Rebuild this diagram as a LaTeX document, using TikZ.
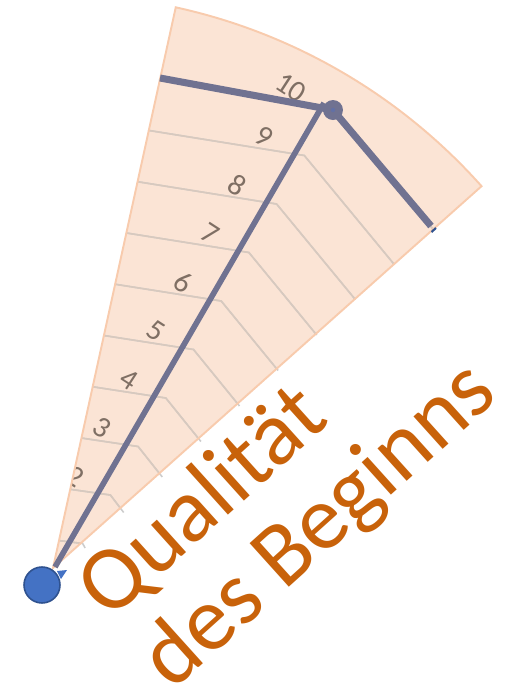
\documentclass[tikz,border=0pt]{standalone}
\usepackage{fontspec}
\setmainfont{Carlito}
\usetikzlibrary{calc}
\definecolor{wedgec}{RGB}{251,228,213}
\definecolor{rimc}{RGB}{248,203,173}
\definecolor{gridc}{RGB}{216,201,190}
\definecolor{tickc}{RGB}{204,204,204}
\definecolor{numc}{RGB}{127,111,100}
\definecolor{slatec}{RGB}{112,114,145}
\definecolor{coredotc}{RGB}{98,112,165}
\definecolor{dotc}{RGB}{68,114,196}
\definecolor{dotrimc}{RGB}{47,82,143}
\definecolor{titlec}{RGB}{200,98,10}
\tikzset{
  wedge/.style={fill=wedgec, draw=none},
  rim/.style={draw=rimc, line width=1.1pt, line join=miter},
  gridln/.style={draw=gridc, line width=0.9pt},
  tickln/.style={draw=tickc, line width=0.9pt},
  num/.style={font=\fontsize{17}{17}\selectfont, text=numc, rotate=-33, inner sep=0pt},
  rating/.style={draw=slatec, line width=4pt},
  ray/.style={draw=slatec, line width=3.2pt},
  peakdot/.style={circle, fill=slatec, minimum size=0.4cm, inner sep=0pt},
  startdot/.style={circle, fill=dotc, draw=dotrimc, line width=0.9pt,
                   minimum size=0.72cm, inner sep=0pt},
  title/.style={font=\fontsize{52}{56}\selectfont, text=titlec, rotate=42,
                anchor=base west, inner sep=0pt},
}
% the quarter slice, apex at the lower left
\newcommand{\wedgepath}{(apex) -- ++(77.65:574) arc[start angle=77.65, end angle=41.7, radius=574] -- cycle}

\begin{document}
\begin{tikzpicture}[x=0.02cm, y=0.02cm]
  \useasboundingbox (0,0) rectangle (510,-691);

  \coordinate (apex) at (53,-568);
  \fill[wedge] \wedgepath;

  % scale lines, grey where they poke out as ticks
  \foreach \k in {1,...,10}
    \draw[tickln] (49+11*\k, -592+51.3*\k) -- (55+27.7*\k, -592+48.5*\k)
      -- (46.5+38.6*\k, -583.5+35.5*\k);
  \begin{scope}
    \clip \wedgepath;
    \foreach \k in {1,...,10}
      \draw[gridln] (49+11*\k, -592+51.3*\k) -- (55+27.7*\k, -592+48.5*\k)
        -- (46.5+38.6*\k, -583.5+35.5*\k);
    \foreach \k in {2,...,10}
      \node[num] (lbl\k) at (21+27*\k, -573.5+48.6*\k) {\k};
  \end{scope}
  \draw[rim] \wedgepath;

  % the rating
  \node[peakdot] (peak) at (333,-110) {};
  \coordinate (rowstart) at (160,-78);
  \coordinate (rateend) at (431,-226);
  \coordinate (raytop) at (324,-103);
  \draw[ray, line cap=butt] (55,-567) -- (raytop);
  \draw[rating] (rowstart) -- (peak.center);
  \draw[rating] (peak.center) -- (rateend);
  \fill[coredotc] (peak.center) circle (2.2);
  \draw[dotrimc, line width=1.2pt] ($(rateend)+(0.5,-6)$) -- ++(42:6);

  \node[startdot] (start) at (42,-585) {};
  \fill[dotc] (57,-571) -- (67,-570) -- (61,-579) -- cycle;

  \node[title] (title1) at (109.4,-622.1) {Qualität};
  \node[title] (title2) at (172.6,-692.2) {des Beginns};

\end{tikzpicture}
\end{document}
